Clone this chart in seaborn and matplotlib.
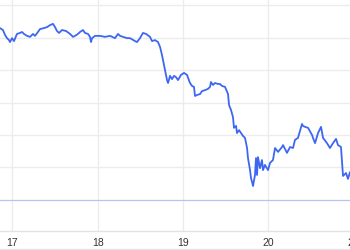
import matplotlib
matplotlib.use("Agg")
import matplotlib.pyplot as plt
from matplotlib.lines import Line2D
import seaborn as sns
import pandas as pd

# day-of-month positions (fractional days)
days = [16.856, 16.891, 16.915, 16.938, 16.962, 16.973, 16.997, 17.020, 17.055, 17.090,
        17.114, 17.137, 17.173, 17.208, 17.243, 17.266, 17.301, 17.325, 17.372, 17.407,
        17.442, 17.477, 17.501, 17.524, 17.548, 17.583, 17.630, 17.677, 17.712, 17.735,
        17.770, 17.794, 17.829, 17.852, 17.888, 17.911, 17.923, 17.935, 17.970, 18.028,
        18.087, 18.146, 18.204, 18.239, 18.263, 18.298, 18.345, 18.380, 18.439, 18.462,
        18.497, 18.532, 18.568, 18.614, 18.638, 18.673, 18.708, 18.732, 18.755, 18.790,
        18.814, 18.826, 18.849, 18.872, 18.896, 18.919, 18.943, 18.978, 19.013, 19.048,
        19.083, 19.107, 19.130, 19.142, 19.165, 19.201, 19.224, 19.259, 19.294, 19.318,
        19.329, 19.353, 19.376, 19.412, 19.435, 19.458, 19.494, 19.529, 19.541, 19.564,
        19.587, 19.599, 19.623, 19.634, 19.658, 19.681, 19.705, 19.728, 19.752, 19.763,
        19.787, 19.798, 19.822, 19.845, 19.857, 19.869, 19.880, 19.904, 19.927, 19.939,
        19.962, 19.998, 20.021, 20.056, 20.080, 20.115, 20.162, 20.174, 20.220, 20.232,
        20.256, 20.291, 20.314, 20.349, 20.396, 20.408, 20.432, 20.467, 20.514, 20.525,
        20.549, 20.584, 20.619, 20.643, 20.689, 20.724, 20.760, 20.795, 20.818, 20.853,
        20.865, 20.877, 20.912, 20.935, 20.959, 20.990]

values = [5.29, 5.23, 5.08, 4.98, 4.92, 4.86, 4.98, 4.89, 5.11, 5.14,
          5.17, 5.11, 5.05, 5.02, 5.11, 5.05, 5.17, 5.26, 5.29, 5.32,
          5.38, 5.42, 5.32, 5.20, 5.14, 5.23, 5.20, 5.11, 5.02, 5.05,
          5.11, 5.17, 5.23, 5.14, 5.11, 5.02, 4.86, 4.98, 5.05, 5.05,
          5.02, 5.05, 4.98, 5.11, 5.05, 5.02, 4.98, 4.98, 4.89, 4.86,
          4.98, 5.14, 5.11, 5.02, 4.89, 4.92, 4.86, 4.71, 4.46, 4.00,
          3.69, 3.60, 3.82, 3.72, 3.82, 3.78, 3.69, 3.85, 3.91, 3.85,
          3.60, 3.51, 3.48, 3.20, 3.23, 3.26, 3.35, 3.38, 3.42, 3.48,
          3.63, 3.54, 3.60, 3.57, 3.57, 3.51, 3.48, 3.26, 2.92, 2.77,
          2.55, 2.22, 2.28, 2.06, 2.15, 2.06, 1.97, 1.91, 1.60, 1.29,
          0.92, 0.68, 0.43, 0.77, 1.29, 0.77, 1.32, 0.98, 1.23, 0.92,
          1.08, 0.92, 1.14, 1.23, 1.60, 1.48, 1.63, 1.69, 1.45, 1.51,
          1.63, 1.60, 1.85, 1.91, 2.34, 2.28, 2.25, 2.22, 2.00, 1.91,
          1.75, 2.06, 2.25, 1.91, 1.75, 1.60, 1.75, 1.88, 1.69, 1.63,
          1.17, 0.74, 0.83, 0.65, 0.86, 0.83]

reference_level = 0.0
day_ticks = [17, 18, 19, 20, 21]
day_labels = ["17", "18", "19", "20", "21"]
grid_levels = [0, 1, 2, 3, 4, 5, 6]

df = pd.DataFrame({"day": days, "value": values})

sns.set_theme(style="white")
plt.rcParams["font.family"] = ["Liberation Sans", "DejaVu Sans"]

fig = plt.figure(figsize=(3.5, 2.5), dpi=100)
ax = fig.add_axes([0.0, 0.076, 360 / 350, 0.924])

grid_c = "#ececec"
for lv in grid_levels:
    ax.axhline(lv, color=grid_c, lw=1.0, zorder=0)
for d in day_ticks:
    ax.axvline(d, color=grid_c, lw=1.0, zorder=0)

ax.axhline(reference_level, color="#b9c2f3", lw=0.8, zorder=1)

sns.lineplot(data=df, x="day", y="value", ax=ax, color="#3d67f2",
             lw=1.3, estimator=None, sort=False, zorder=3)

ax.set_xlim(16.856, 21.076)
ax.set_ylim(-0.954, 6.154)
ax.set_xticks(day_ticks)
ax.set_xticklabels(day_labels)
ax.set_yticks([])
ax.set_xlabel("")
ax.set_ylabel("")
ax.tick_params(axis="x", length=0, pad=5, labelsize=7.5, labelcolor="#333333")

for s in ["top", "right", "left"]:
    ax.spines[s].set_visible(False)
ax.spines["bottom"].set_color("#e2e2e2")
ax.spines["bottom"].set_linewidth(1.0)

fig.add_artist(Line2D([0, 1], [0.004, 0.004], transform=fig.transFigure,
                      color="#e6e6e6", lw=1.0))

fig.savefig("out.png", dpi=100)
